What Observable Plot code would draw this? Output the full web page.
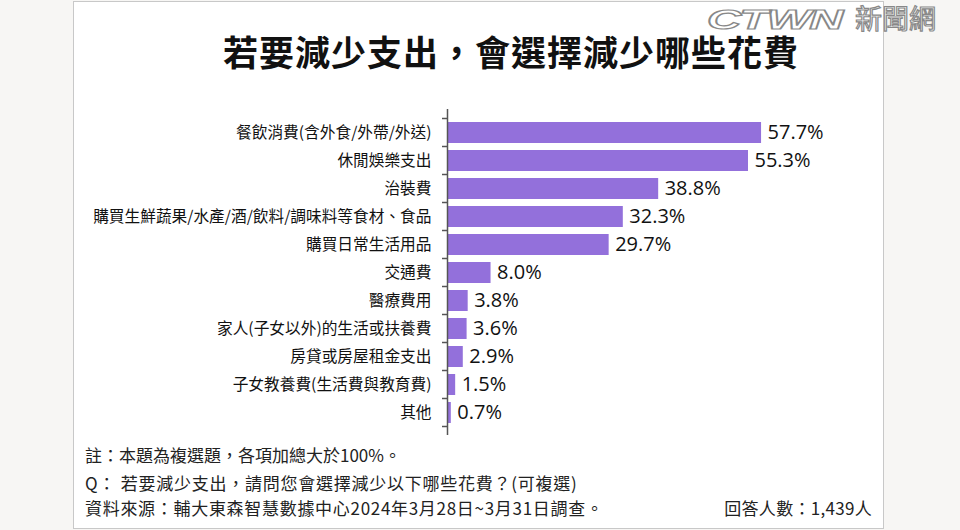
<!DOCTYPE html>
<html>
<head>
<meta charset="utf-8">
<script src="https://cdn.jsdelivr.net/npm/d3@7"></script>
<script src="https://cdn.jsdelivr.net/npm/@observablehq/plot@0.6"></script>
<style>
  html, body { margin: 0; padding: 0; }
  body { width: 960px; height: 530px; background: #f7f6f4; position: relative; overflow: hidden;
         font-family: "Noto Sans CJK TC", "Noto Sans", sans-serif; color: #111; }
  #panel { position: absolute; left: 73px; top: 1px; width: 811px; height: 528px; box-sizing: border-box;
           background: #fff; border: 1px solid #c8c8c8; }
  #title { position: absolute; left: 511px; top: 33px; transform: translateX(-50%); white-space: nowrap;
           font-size: 35px; font-weight: bold; line-height: 1; color: #111; letter-spacing: 1px; }
  #logo { position: absolute; left: 707px; top: 4px; white-space: nowrap; font-size: 27px; line-height: 27px; height: 27px;
          color: #fff; -webkit-text-stroke: 1.2px #888; }
  #logo .en { display: inline-block; width: 148px; transform: scaleX(1.75); transform-origin: left center;
              font-family: "Liberation Sans", sans-serif; font-weight: bold; font-style: italic; letter-spacing: -1px; }
  #logo .zh { font-family: "Noto Sans CJK TC", sans-serif; }
  #chart { position: absolute; left: 73px; top: 90px; }
  .note { position: absolute; left: 85px; font-size: 17px; line-height: 1; white-space: nowrap; color: #222; }
  #n2 { letter-spacing: 0.75px; }
  #n3 { letter-spacing: 0.7px; }
  #count { left: auto; right: 88px; letter-spacing: 0.3px; }
</style>
</head>
<body>
<div id="panel"></div>
<div id="logo"><span class="en">CTWN</span><span class="zh">新聞網</span></div>
<div id="title"></div>
<div id="chart"></div>
<div class="note" id="n1"></div>
<div class="note" id="n2"></div>
<div class="note" id="n3"></div>
<div class="note" id="count"></div>
<script>
const titleText = "若要減少支出，會選擇減少哪些花費";
const categories = [
  "餐飲消費(含外食/外帶/外送)",
  "休閒娛樂支出",
  "治裝費",
  "購買生鮮蔬果/水產/酒/飲料/調味料等食材、食品",
  "購買日常生活用品",
  "交通費",
  "醫療費用",
  "家人(子女以外)的生活或扶養費",
  "房貸或房屋租金支出",
  "子女教養費(生活費與教育費)",
  "其他"
];
const values = [57.7, 55.3, 38.8, 32.3, 29.7, 8.0, 3.8, 3.6, 2.9, 1.5, 0.7];
const notes = [
  "註：本題為複選題，各項加總大於100%。",
  "Q： 若要減少支出，請問您會選擇減少以下哪些花費？(可複選)",
  "資料來源：輔大東森智慧數據中心2024年3月28日~3月31日調查。"
];
const countText = "回答人數：1,439人";

const data = categories.map((c, i) => ({category: c, value: values[i]}));

document.getElementById("title").textContent = titleText;
document.getElementById("n1").textContent = notes[0];
document.getElementById("n2").textContent = notes[1];
document.getElementById("n3").textContent = notes[2];
document.getElementById("count").textContent = countText;
const noteY = [446, 474, 499];
["n1", "n2", "n3"].forEach((id, i) => document.getElementById(id).style.top = noteY[i] + "px");
document.getElementById("count").style.top = noteY[2] + "px";

const chart = Plot.plot({
  width: 810,
  height: 360,
  marginLeft: 374,
  marginRight: 55,
  marginTop: 19,
  marginBottom: 15,
  style: {fontFamily: "'Noto Sans CJK TC', sans-serif", fontSize: "15.7px", color: "#111", background: "transparent", overflow: "visible"},
  x: {domain: [0, 70], axis: null},
  y: {domain: categories, label: null, tickSize: 0, tickPadding: 16, padding: 0.25},
  marks: [
    Plot.barX(data, {x: "value", y: "category", fill: "#9370db"}),
    Plot.ruleX([0], {stroke: "#555", strokeWidth: 1.5}),
    Plot.text(data, {x: "value", y: "category", text: d => d.value.toFixed(1) + "%", dx: 6,
      textAnchor: "start", fontSize: 20, fontFamily: "'Open Sans', sans-serif", fill: "#111"})
  ]
});
document.getElementById("chart").appendChild(chart);

// band-boundary tick marks on the category axis
const ys = chart.scale("y");
const xs = chart.scale("x");
const x0 = xs.apply(0);
const gap = (ys.step - ys.bandwidth) / 2;
const bounds = categories.map(c => ys.apply(c) - gap);
bounds.push(ys.apply(categories[categories.length - 1]) + ys.bandwidth + gap);
d3.select(chart).append("g")
  .attr("stroke", "#555").attr("stroke-width", 1.5)
  .selectAll("line").data(bounds).join("line")
  .attr("x1", x0 - 5).attr("x2", x0).attr("y1", d => d).attr("y2", d => d);
</script>
</body>
</html>
